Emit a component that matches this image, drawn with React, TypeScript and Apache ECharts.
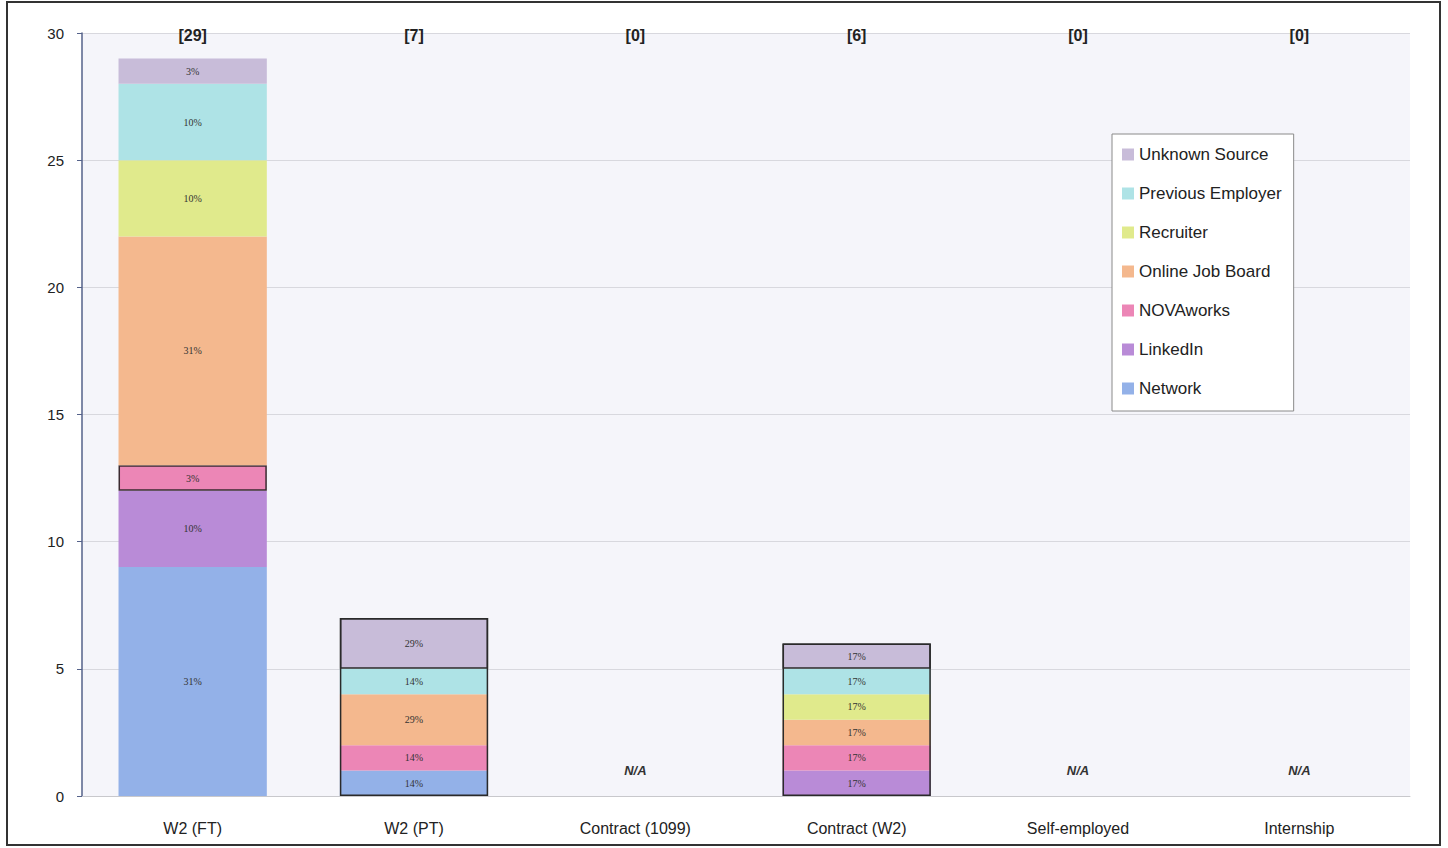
import React, { useEffect, useRef } from "react";
import * as echarts from "echarts";

const categories = ["W2 (FT)", "W2 (PT)", "Contract (1099)", "Contract (W2)", "Self-employed", "Internship"];
const network = [9, 1, 0, 0, 0, 0];
const linkedIn = [3, 0, 0, 1, 0, 0];
const novaworks = [1, 1, 0, 1, 0, 0];
const onlineJobBoard = [9, 2, 0, 1, 0, 0];
const recruiter = [3, 0, 0, 1, 0, 0];
const previousEmployer = [3, 1, 0, 1, 0, 0];
const unknownSource = [1, 2, 0, 1, 0, 0];
const outlinedBars = [false, true, false, true, false, false];
const yTicks = [0, 5, 10, 15, 20, 25, 30];

const seriesDefs = [
  { name: "Network", data: network, color: "#93b1e8" },
  { name: "LinkedIn", data: linkedIn, color: "#b98bd7" },
  { name: "NOVAworks", data: novaworks, color: "#ec86b6" },
  { name: "Online Job Board", data: onlineJobBoard, color: "#f4b88e" },
  { name: "Recruiter", data: recruiter, color: "#e0ea8c" },
  { name: "Previous Employer", data: previousEmployer, color: "#aee3e6" },
  { name: "Unknown Source", data: unknownSource, color: "#c8bcd9" },
];

const totals = categories.map((_, i) => seriesDefs.reduce((s, d) => s + d.data[i], 0));
const totalLabels = totals.map((t) => `[${t}]`);
const naValues = totals.map((t) => (t === 0 ? 2 : null));

export default function App() {
  const ref = useRef<HTMLDivElement>(null);
  useEffect(() => {
    const chart = echarts.init(ref.current!, null, { renderer: "svg" });
    const stacked = seriesDefs.map((d) => ({
      name: d.name,
      type: "bar",
      stack: "a",
      barWidth: "67%",
      itemStyle: { color: d.color },
      label: {
        show: true,
        position: "inside",
        fontSize: 10,
        color: "#333",
        fontFamily: "Liberation Serif",
        formatter: (p: any) => {
          const t = totals[p.dataIndex];
          return p.value > 0 && t > 0 ? `${Math.round((p.value / t) * 100)}%` : "";
        },
      },
      data: d.data.map((v, i) => {
        let borderStyle: any = {};
        if (d.name === "NOVAworks" && i === 0) borderStyle = { borderColor: "#3a2a30", borderWidth: 1.5 };
        if (d.name === "Unknown Source" && outlinedBars[i]) borderStyle = { borderColor: "#2a2a2a", borderWidth: 1.5 };
        return { value: v, itemStyle: { color: d.color, ...borderStyle } };
      }),
    }));
    chart.setOption({
      animation: false,
      backgroundColor: "#ffffff",
      textStyle: { fontFamily: "Liberation Sans" },
      grid: {
        left: 82,
        right: 38,
        top: 33,
        bottom: 52,
        show: true,
        backgroundColor: "#f5f5fa",
        borderWidth: 0,
      },
      legend: {
        orient: "vertical",
        left: 1112,
        top: 134,
        data: seriesDefs.map((d) => d.name).reverse(),
        itemWidth: 12,
        itemHeight: 12,
        itemGap: 22,
        icon: "rect",
        backgroundColor: "#ffffff",
        borderColor: "#8a8a8a",
        borderWidth: 1,
        padding: [12, 12, 14, 10],
        textStyle: { fontSize: 17, color: "#222", fontFamily: "Liberation Sans Narrow, Liberation Sans" },
      },
      xAxis: [
        {
          type: "category",
          data: categories,
          axisLine: { show: true, lineStyle: { color: "#c8c8cc" } },
          axisTick: { show: false },
          axisLabel: { fontSize: 16, color: "#222", margin: 24 },
        },
        {
          type: "category",
          position: "top",
          data: totalLabels,
          axisLine: { show: false },
          axisTick: { show: false },
          axisLabel: { fontSize: 16, color: "#222", margin: -10, fontWeight: "bold" },
        },
      ],
      yAxis: {
        type: "value",
        min: yTicks[0],
        max: yTicks[yTicks.length - 1],
        interval: 5,
        axisLine: { show: true, lineStyle: { color: "#55628a", width: 1.5 } },
        axisTick: { show: true, length: 5, lineStyle: { color: "#55628a" } },
        axisLabel: { fontSize: 15, color: "#222", margin: 18 },
        splitLine: { lineStyle: { color: "#d8d8de" } },
      },
      graphic: [
        {
          type: "rect",
          shape: { x: 7, y: 2, width: 1433, height: 843 },
          style: { fill: "none", stroke: "#333", lineWidth: 2 },
          silent: true,
          z: 100,
        },
      ],
      series: [
        ...stacked,
        {
          name: "na",
          type: "bar",
          stack: "a",
          barWidth: "67%",
          itemStyle: { color: "rgba(0,0,0,0)" },
          label: {
            show: true,
            position: "inside",
            formatter: "N/A",
            fontSize: 13,
            fontStyle: "italic",
            fontWeight: "bold",
            color: "#333",
          },
          data: naValues,
        },
        {
          name: "outline",
          type: "bar",
          barWidth: "67%",
          barGap: "-100%",
          z: 5,
          itemStyle: { color: "rgba(0,0,0,0)", borderColor: "#2a2a2a", borderWidth: 1.5 },
          data: totals.map((t, i) => (outlinedBars[i] ? t : null)),
        },
      ],
    });
    return () => chart.dispose();
  }, []);
  return (
    <div style={{ position: "fixed", left: 0, top: 0, width: 1448, height: 848 }}>
      <div ref={ref} style={{ width: 1448, height: 848 }} />
    </div>
  );
}
